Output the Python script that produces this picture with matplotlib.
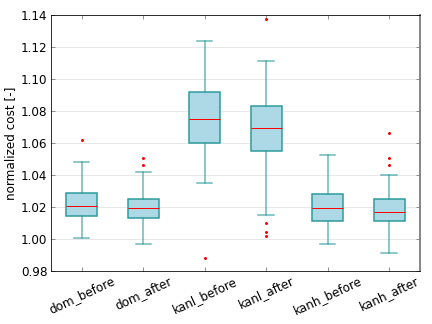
import numpy as np
import matplotlib
matplotlib.use('Agg')
import matplotlib.pyplot as plt

labels = ['dom_before', 'dom_after', 'kanl_before', 'kanl_after', 'kanh_before', 'kanh_after']
whislo = [1.0008, 0.9965, 1.035, 1.0148, 0.9969, 0.9913]
q1 = [1.0142, 1.013, 1.060, 1.055, 1.011, 1.011]
med = [1.0204, 1.019, 1.075, 1.0692, 1.0192, 1.0167]
q3 = [1.0288, 1.025, 1.092, 1.083, 1.028, 1.0248]
whishi = [1.048, 1.042, 1.124, 1.1113, 1.0525, 1.0402]
fliers = [[1.062], [1.0508, 1.0463], [0.988],
          [1.1375, 1.0098, 1.0046, 1.0017], [], [1.0664, 1.0506, 1.0464]]

stats = []
for i in range(len(labels)):
    stats.append({'label': labels[i], 'whislo': whislo[i], 'q1': q1[i], 'med': med[i],
                  'q3': q3[i], 'whishi': whishi[i], 'fliers': fliers[i]})

edge = '#2a9a9a'
fig = plt.figure(figsize=(6, 4.5), dpi=72)
ax = fig.add_axes([0.118, 0.164, 0.854, 0.79])
ax.grid(axis='y', color='#e8e8e8', linewidth=1, zorder=0)
ax.bxp(stats, widths=0.5, patch_artist=True,
       boxprops=dict(facecolor='lightblue', edgecolor=edge, linewidth=1.5),
       whiskerprops=dict(color=edge, linewidth=1.5, alpha=0.7, linestyle='-'),
       capprops=dict(color=edge, linewidth=1.5, alpha=0.7),
       medianprops=dict(color='red', linewidth=1),
       flierprops=dict(marker='o', markerfacecolor='red', markeredgecolor='none', markersize=3))
ax.set_ylim(0.98, 1.14)
ax.set_xlim(0.5, 6.5)
yt = np.arange(0.98, 1.1401, 0.02)
ax.set_yticks(yt)
ax.set_yticklabels(['%.2f' % v for v in yt], fontsize=12)
ax.set_xticklabels(labels, rotation=25, fontsize=12)
ax.tick_params(direction='in', top=True, right=True, color='#777777', length=4)
ax.spines['right'].set_color('#888888')
ax.spines['right'].set_linewidth(2)
ax.set_ylabel('normalized cost [-]', fontsize=12)
plt.savefig('out.png', dpi=72)
